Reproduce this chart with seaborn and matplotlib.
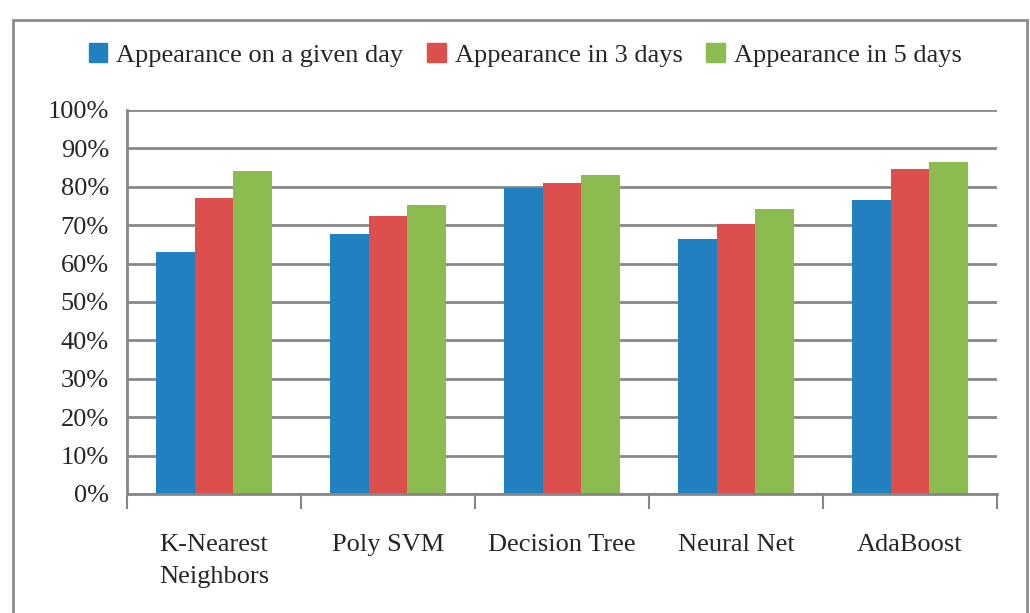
import pandas as pd
import matplotlib.pyplot as plt
import matplotlib.patches as mpatches
import seaborn as sns
import numpy as np

# data (percent)
models = ['K-Nearest\nNeighbors', 'Poly SVM', 'Decision Tree', 'Neural Net', 'AdaBoost']
series = ['Appearance on a given day', 'Appearance in 3 days', 'Appearance in 5 days']
given_day = [63.1, 67.6, 79.8, 66.5, 76.5]
in_3_days = [77.0, 72.5, 80.9, 70.3, 84.6]
in_5_days = [84.1, 75.3, 83.1, 74.2, 86.4]
colors = ['#2180C0', '#DC4F4D', '#8CBB50']

rows = []
for name, vals in zip(series, [given_day, in_3_days, in_5_days]):
    for m, v in zip(models, vals):
        rows.append({'model': m, 'series': name, 'value': v})
df = pd.DataFrame(rows)

sns.set_style('white')
plt.rcParams['font.family'] = ['Liberation Serif', 'DejaVu Serif']
fs = 19

fig = plt.figure(figsize=(10.30, 6.13), dpi=100)
ax = fig.add_axes([127/1030, 1 - 494/613, (997-127)/1030, (494-110)/613])

sns.barplot(data=df, x='model', y='value', hue='series', palette=colors,
            width=0.667, gap=0, saturation=1, ax=ax, legend=False, errorbar=None,
            linewidth=0)

ax.set_ylim(0, 100)
ax.set_xlim(-0.5, len(models) - 0.5)
ax.set_yticks(np.arange(0, 101, 10))
ax.set_yticklabels([f'{t}%' for t in range(0, 101, 10)], fontsize=fs)
ax.yaxis.grid(True, color='#878787', linewidth=2)
ax.set_axisbelow(True)
ax.set_xlabel('')
ax.set_ylabel('')
ax.set_xticks(range(len(models)))
ax.set_xticklabels(models, fontsize=fs, linespacing=1.55, va='top')

# category boundaries as minor ticks, labels on major ticks
ax.set_xticks(np.arange(-0.5, len(models), 1), minor=True)
ax.tick_params(axis='x', which='major', length=0, pad=29)
ax.tick_params(axis='x', which='minor', length=11, width=1.5, color='#878787', direction='out')
ax.tick_params(axis='y', which='major', length=7, width=1.5, color='#878787', direction='out', pad=6)
ax.xaxis.set_tick_params(which='minor', bottom=True)

for s in ['top', 'right']:
    ax.spines[s].set_visible(False)
for s in ['left', 'bottom']:
    ax.spines[s].set_color('#878787')
    ax.spines[s].set_linewidth(2)

handles = [mpatches.Patch(color=c, label=l) for c, l in zip(colors, series)]
fig.legend(handles=handles, loc='center', bbox_to_anchor=(0.51, 1 - 55/613), ncol=3,
           frameon=False, fontsize=fs, handlelength=0.7, handleheight=0.7,
           handletextpad=0.35, columnspacing=0.9)

# outer chart border
border = mpatches.Rectangle((13/1030, -0.01), (1027-13)/1030, 1 - 20/613 + 0.01,
                            transform=fig.transFigure, fill=False,
                            edgecolor='#8C8C8C', linewidth=2)
fig.patches.append(border)

plt.savefig('out.png', dpi=100)
plt.close()
